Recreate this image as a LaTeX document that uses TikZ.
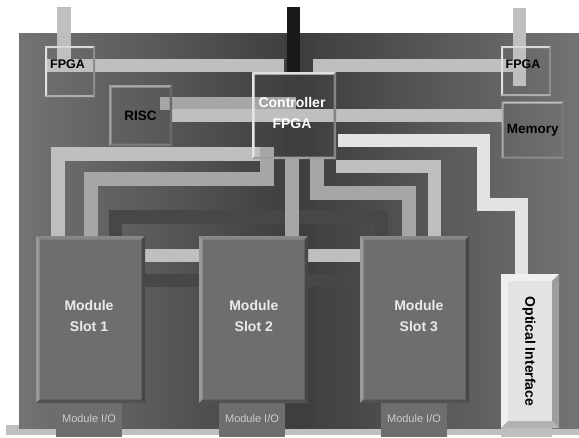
\documentclass[tikz,border=0pt]{standalone}
\usepackage{fontspec}
\setmainfont{Liberation Sans}
\usetikzlibrary{positioning,backgrounds}
\begin{document}
\begin{tikzpicture}[
  x=1pt, y=-1pt,
  font=\bfseries\fontsize{14}{21}\selectfont,
  block/.style={inner sep=0pt, outer sep=0pt, align=center},
  slotbox/.style={block, minimum width=109pt, minimum height=167pt, fill=black!57},
  slottext/.style={block, text=black!8},
  iobox/.style={block, minimum width=66pt, minimum height=34pt, fill=black!57, text=black!20,
    font=\fontsize{11}{13}\selectfont},
  chip/.style={block, text=black},
  lightbus/.style={line width=13pt, black!25},
  midbus/.style={line width=14pt, black!35},
  whitebus/.style={line width=13pt, black!11},
  darkbus/.style={line width=13.5pt, black!72}]
\useasboundingbox (0,0) rectangle (579,437);
\node[slotbox] (slota) at (90.5,319.5) {};
\node[slotbox, right=54pt of slota] (slotb) {};
\node[slotbox, right=52pt of slotb] (slotc) {};
\node[slottext] (slotatext) at (89,316) {Module\\Slot 1};
\node[slottext] (slotbtext) at (253.8,316) {Module\\Slot 2};
\node[slottext] (slotctext) at (418.8,316) {Module\\Slot 3};
\node[iobox] (ioa) at (89,420) {\raisebox{2pt}{Module I/O}};
\node[iobox] (iob) at (252,420) {\raisebox{2pt}{Module I/O}};
\node[iobox] (ioc) at (414,420) {\raisebox{2pt}{Module I/O}};
\node[chip, minimum width=84pt, minimum height=87pt] (ctrl) at (294,115.5) {};
\node[chip, text=white] (ctrltext) at (292,112.5) {Controller\\FPGA};
\node[chip, minimum width=50pt, minimum height=51pt] (fpgal) at (70,71.5) {};
\node[chip, minimum width=50pt, minimum height=50pt] (fpgar) at (526,71) {};
\node[chip, font=\bfseries\fontsize{12.5}{15}\selectfont] (fpgaltext) at (67.5,64) {FPGA};
\node[chip, font=\bfseries\fontsize{12.5}{15}\selectfont] (fpgartext) at (523,64) {FPGA};
\node[chip, minimum width=63pt, minimum height=61pt, font=\bfseries\fontsize{13.5}{15}\selectfont] (risc) at (140.5,115.5) {RISC};
\node[chip, minimum width=62pt, minimum height=57pt, font=\bfseries\fontsize{13.5}{15}\selectfont] (memory) at (532.7,130) {Memory};
\node[chip, minimum width=58pt, minimum height=154pt, fill=black!11] (optical) at (530,351) {};
\node[chip, rotate=-90] (opticaltext) at (529,351.5) {Optical Interface};
\coordinate (pinl) at (64,7);
\coordinate (pinc) at (293.5,7);
\coordinate (pinr) at (519.5,8);
\coordinate (pinrend) at (519.5,86);
\coordinate (ctlfl) at (284,65);
\coordinate (ctlfr) at (313,65);
\coordinate (ctla) at (273,153.5);
\coordinate (ctlb) at (266.5,147);
\coordinate (riscend) at (160,103.5);
\coordinate (ctlc) at (296,103.5);
\coordinate (whiteturn) at (483.5,204.5);
\coordinate (darktop) at (248,217);
\coordinate (stripl) at (6,430);
\coordinate (stripr) at (579,430);
\coordinate (stubend) at (526.5,437);
\begin{pgfonlayer}{background}
\draw[line width=10pt, black!25] (stripl) -- (stripr);
\foreach \i in {0,...,111} {
  \pgfmathsetmacro\shadeval{76-21*abs(\i-55.5)/55.5}
  \fill[black!\shadeval] (19+5*\i,33) rectangle (24.5+5*\i,429);
}
\draw[darkbus] ([xshift=25pt]slota.north) |- (darktop) -| ([xshift=21.5pt]slotc.north west);
\draw[darkbus] ([yshift=39pt]slota.east) -- ([yshift=39pt]slotc.west);
\draw[lightbus] ([yshift=64pt]slota.east) -- ([yshift=64pt]slotb.west);
\draw[lightbus] ([yshift=64pt]slotb.east) -- ([yshift=64pt]slotc.west);
\draw[lightbus, line width=14pt] (pinl) -- (pinl |- ctlfl);
\draw[lightbus] ([yshift=6.5pt]fpgal.west) -- (ctlfl);
\draw[lightbus] (ctlfr) -- (pinr |- ctlfr);
\draw[lightbus] (pinr) -- (pinrend);
\draw[line width=13pt, black!90] (pinc) -- (pinc |- ctrl.north);
\draw[midbus, line width=13pt] (riscend) -- (ctlc);
\draw[lightbus] (risc.east) -- (memory.west |- risc.east);
\draw[lightbus, line width=14pt] (ctla) -| ([xshift=21.5pt]slota.north west);
\draw[midbus] (ctlb) -- ++(0,32) -| (slota.north);
\draw[midbus] ([xshift=-2pt]ctrl.south) -- ([xshift=-2pt]ctrl.south |- slotb.north);
\draw[midbus] ([xshift=23pt]ctrl.south) -- ++(0,33.5) -| ([xshift=48.5pt]slotc.north west);
\draw[lightbus] ([yshift=-7.5pt]ctrl.south east) -| ([xshift=74.5pt]slotc.north west);
\draw[whitebus] ([xshift=2pt,yshift=-25pt]ctrl.east) -| (whiteturn) -| ([xshift=-9pt]optical.north);
\draw[line width=51pt, black!25] (optical.south -| stubend) -- (stubend);
\end{pgfonlayer}
\foreach \n/\w/\ct/\cl/\cr/\cb in {
  slota/3.5/black!47/black!40/black!72/black!68,
  slotb/3.5/black!47/black!40/black!72/black!68,
  slotc/3.5/black!47/black!40/black!72/black!68,
  optical/7/black!6/black!6/black!38/black!30,
  ctrl/2.5/black!12/black!10/black!48/black!38,
  fpgal/2/black!15/black!12/black!45/black!32,
  fpgar/2/black!15/black!12/black!45/black!32,
  risc/2.5/black!36/black!38/black!58/black!52,
  memory/2/black!25/black!32/black!52/black!45} {
  \fill[\ct] (\n.north west) -- (\n.north east) -- ([xshift=-\w pt,yshift=-\w pt]\n.north east) -- ([xshift=\w pt,yshift=-\w pt]\n.north west) -- cycle;
  \fill[\cl] (\n.north west) -- (\n.south west) -- ([xshift=\w pt,yshift=\w pt]\n.south west) -- ([xshift=\w pt,yshift=-\w pt]\n.north west) -- cycle;
  \fill[\cr] (\n.north east) -- (\n.south east) -- ([xshift=-\w pt,yshift=\w pt]\n.south east) -- ([xshift=-\w pt,yshift=-\w pt]\n.north east) -- cycle;
  \fill[\cb] (\n.south west) -- (\n.south east) -- ([xshift=-\w pt,yshift=\w pt]\n.south east) -- ([xshift=\w pt,yshift=\w pt]\n.south west) -- cycle;
}
\end{tikzpicture}
\end{document}
